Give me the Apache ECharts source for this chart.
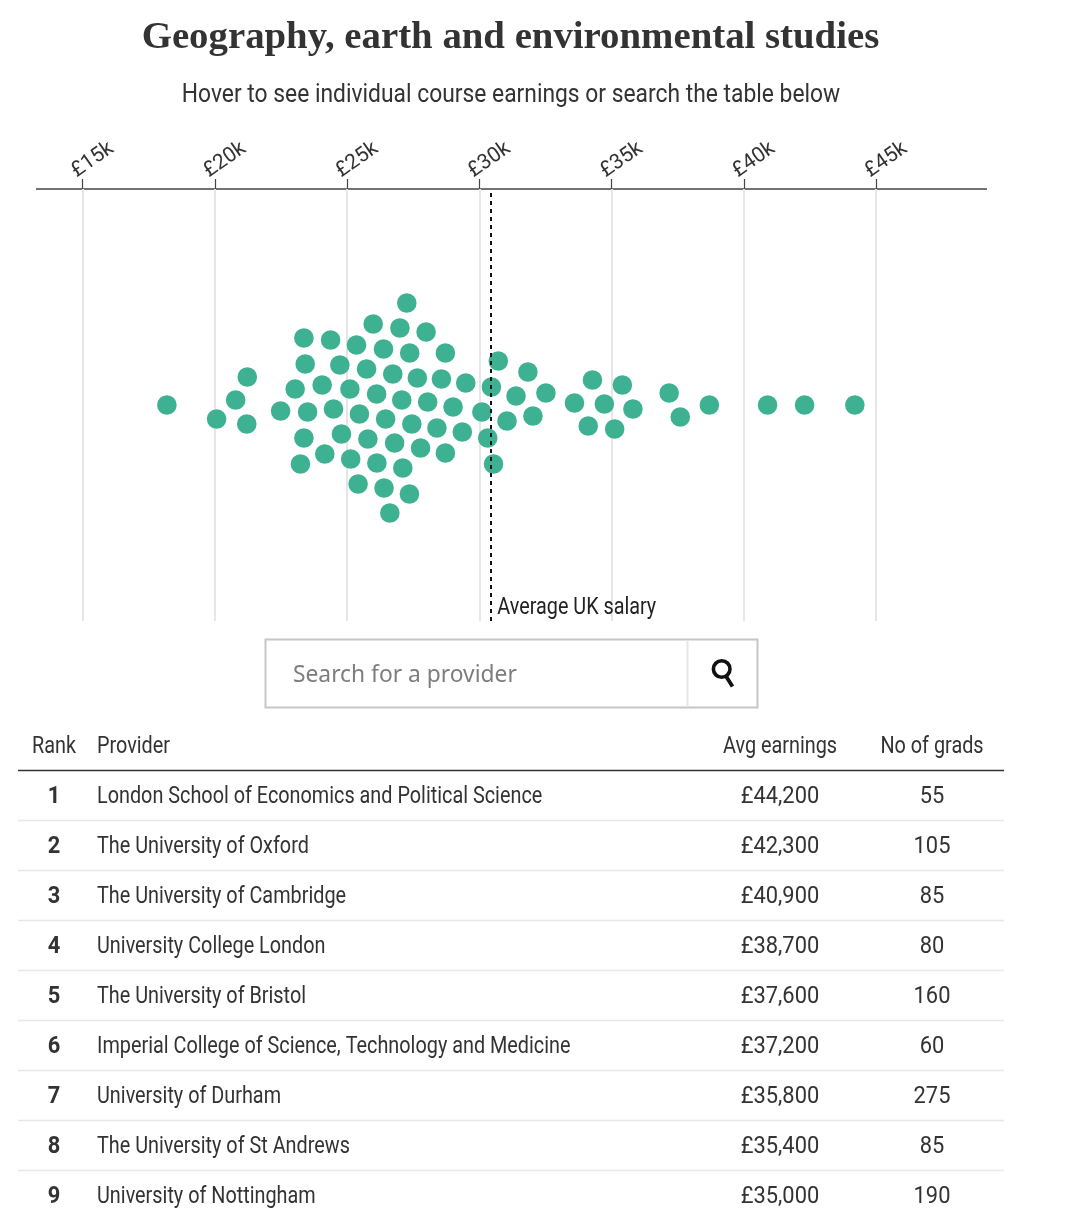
<!DOCTYPE html>
<html>
<head>
<meta charset="utf-8">
<style>html,body{margin:0;padding:0;background:#fff}#c{width:1080px;height:1213px}</style>
<script src="https://cdn.jsdelivr.net/npm/echarts@6/dist/echarts.min.js"></script>
</head>
<body>
<div id="c"></div>
<script>
const titleText = 'Geography, earth and environmental studies';
const subtitleText = 'Hover to see individual course earnings or search the table below';
const averageSalary = 30420;
const averageLabel = 'Average UK salary';
const searchPlaceholder = 'Search for a provider';

// Each course: earnings in pounds, and its swarm offset from the centre line
const earnings = [18190,20070,20790,21230,21210,22490,23510,23040,24060,23420,23370,24380,24730,25360,25990,27260,27000,27990,26380,27370,28720,25740,26730,27660,28570,29490,30460,30720,25110,26120,27070,28050,29010,30100,24490,25470,26460,27450,28400,29360,30320,30540,23370,24790,25790,26800,27780,28720,23240,24160,25140,26130,27110,25420,26400,27360,26620,31840,31390,32520,31050,32030,34280,35410,33600,34730,35810,34120,35120,37180,37600,38700,40900,42300,44200];
const offsets = [0,-14,5,28,-19,-6,-7,16,20,41,67,65,40,60,81,102,77,73,56,52,52,36,31,27,26,22,18,44,16,11,5,3,-2,-7,-4,-9,-14,-19,-23,-27,-33,-59,-33,-29,-34,-38,-43,-48,-59,-49,-54,-58,-63,-79,-83,-89,-108,33,9,12,-16,-11,25,20,2,1,-4,-21,-24,12,-12,0,0,0,0];

const tableHeaders = ['Rank','Provider','Avg earnings','No of grads'];
const ranks = [1,2,3,4,5,6,7,8,9];
const providers = ['London School of Economics and Political Science','The University of Oxford','The University of Cambridge','University College London','The University of Bristol','Imperial College of Science, Technology and Medicine','University of Durham','The University of St Andrews','University of Nottingham'];
const avgEarnings = ['£44,200','£42,300','£40,900','£38,700','£37,600','£37,200','£35,800','£35,400','£35,000'];
const grads = [55,105,85,80,160,60,275,85,190];

const SANS = 'Roboto,"Noto Sans",sans-serif';
const INK = '#333333';
const NARROW = 0.862, NUM = 0.95;
const gfx = [];
function txt(x,y,text,o,sx){gfx.push({type:'text',silent:true,z:100,x,y,scaleX:sx||NARROW,style:Object.assign({x:0,y:0,text:String(text),fontFamily:SANS,fontSize:23,fill:INK,textAlign:'left',textVerticalAlign:'middle'},o||{})});}
function line(x1,y1,x2,y2,stroke,w){gfx.push({type:'line',silent:true,shape:{x1,y1,x2,y2},style:{stroke,lineWidth:w}});}

// subtitle
txt(511,95,subtitleText,{fontSize:26,textAlign:'center'},0.878);

// extended axis rule
line(36,189,987,189,'#444444',1.6);

// search box
gfx.push({type:'rect',silent:true,shape:{x:265.5,y:639.5,width:492,height:68},style:{fill:'#fff',stroke:'#c6c6c6',lineWidth:2}});
line(687.5,640,687.5,707,'#e6e6e6',2);
txt(293,676,searchPlaceholder,{fontFamily:'"Noto Sans",sans-serif',fontSize:22.8,fill:'#7d7d7d'},1);
gfx.push({type:'circle',silent:true,shape:{cx:721.7,cy:669,r:8.3},style:{fill:'none',stroke:'#111',lineWidth:3.6}});
line(726.5,677,732.5,686.5,'#111',3.8);

// table
txt(32,747.5,tableHeaders[0]);
txt(97,747.5,tableHeaders[1]);
txt(780,747.5,tableHeaders[2],{textAlign:'center'});
txt(932,747.5,tableHeaders[3],{textAlign:'center'});
line(18,770.5,1004,770.5,'#333333',1.6);
ranks.forEach((r,i)=>{
  const y=795+i*50;
  txt(54,y+2.5,r,{textAlign:'center',fontWeight:'bold'},NUM);
  txt(97,y+2.5,providers[i]);
  txt(780,y+2.5,avgEarnings[i],{textAlign:'center'},NUM);
  txt(932,y+2.5,grads[i],{textAlign:'center'},NUM);
  if(i<ranks.length-1) line(18,y+25.5,1004,y+25.5,'#e8e8e8',1.6);
});

const chart = echarts.init(document.getElementById('c'),null,{renderer:'canvas'});
const option = {
  animation:false,
  backgroundColor:'#fff',
  title:[
    {text:titleText,left:505.5,top:13,textAlign:'center',textStyle:{fontFamily:'"Liberation Serif",serif',fontWeight:'bold',fontSize:38.8,color:'#333'}}
  ],
  grid:{left:82.5,width:793.5,top:189,height:432,containLabel:false},
  xAxis:{type:'value',position:'top',min:15000,max:45000,interval:5000,
    axisLine:{show:false,onZero:false},
    axisTick:{show:true,length:10,lineStyle:{color:'#444',width:1.2}},
    axisLabel:{rotate:-35,margin:22,align:'center',verticalAlign:'middle',padding:[0,0,0,25],fontFamily:SANS,fontSize:21,color:INK,formatter:v=>'£'+(v/1000)+'k'},
    splitLine:{show:true,lineStyle:{color:'#e6e6e6',width:2}}},
  yAxis:{type:'value',min:-216,max:216,show:false,splitLine:{show:false}},
  series:[{
    type:'scatter',
    symbolSize:19.6,
    itemStyle:{color:'#3fb193',opacity:1},
    data:earnings.map((e,i)=>[e,offsets[i]]),
    z:2,
    markLine:{silent:true,symbol:'none',animation:false,
      lineStyle:{color:'#111',type:[4,4],width:2},
      label:{show:false},
      data:[{xAxis:averageSalary}],z:3}
  }],
  graphic:gfx
};
chart.setOption(option);
// label placed next to the average line via the chart's own scale
const ax = chart.convertToPixel({gridIndex:0},[averageSalary,-201]);
txt(ax[0]+7,ax[1]+2,averageLabel,{fill:'#222'},0.86);
chart.setOption({graphic:gfx});
</script>
</body>
</html>
